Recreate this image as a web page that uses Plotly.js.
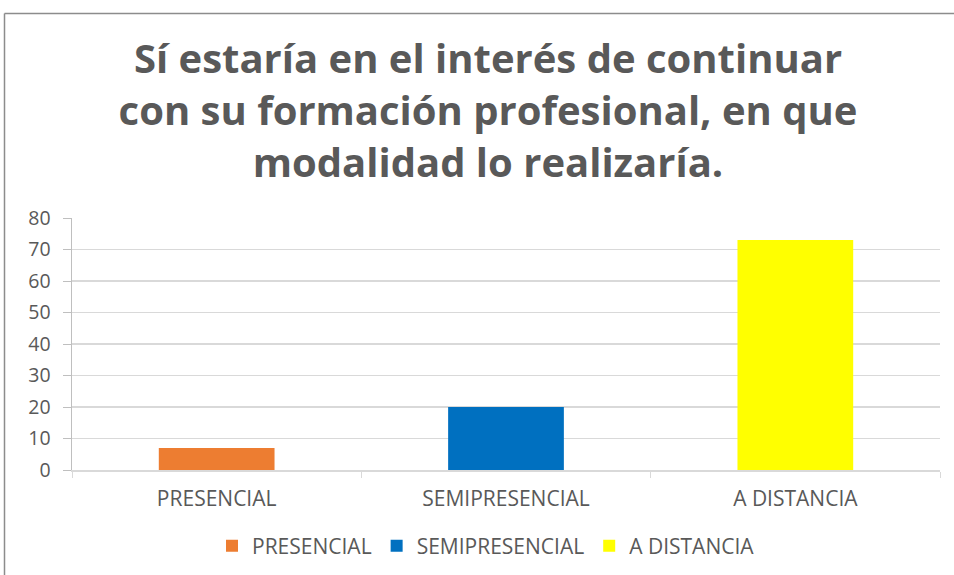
<!DOCTYPE html>
<html><head><meta charset="utf-8">
<script src="https://cdn.plot.ly/plotly-3.0.1.min.js"></script>
<style>html,body{margin:0;padding:0;background:#fff;overflow:hidden}</style>
</head><body><div id="chart" style="width:954px;height:575px"></div>
<script>
const categories = ['PRESENCIAL', 'SEMIPRESENCIAL', 'A DISTANCIA'];
const values = [7, 20, 73];
const colors = ['#ED7D31', '#0070C0', '#FFFF00'];
const yTicks = [0, 10, 20, 30, 40, 50, 60, 70, 80];
const titleText = 'Sí estaría en el interés de continuar<br>con su formación profesional, en que<br>modalidad lo realizaría.';

const traces = categories.map((c, i) => ({
  type: 'bar', name: c, x: [c], y: [values[i]],
  marker: {color: colors[i]}, width: 0.4, hoverinfo: 'x+y'
}));

const L = 72, R = 940, T = 218, B = 470;
const pw = R - L, ph = B - T;
const px = X => (X - L) / pw, py = Y => (B - Y) / ph;

const layout = {
  width: 954, height: 575,
  margin: {l: L, r: 954 - R, t: T, b: 575 - B, autoexpand: false},
  paper_bgcolor: '#fff', plot_bgcolor: '#fff',
  font: {family: '"Open Sans", sans-serif', color: '#595959'},
  title: {text: titleText, font: {size: 40, color: '#595959', family: '"Open Sans", sans-serif', weight: 'bold'},
          x: 488/954, xanchor: 'center', y: 1 - 73/575, yanchor: 'top', yref: 'container'},
  barmode: 'overlay',
  showlegend: true,
  legend: {orientation: 'h', x: px(486), xanchor: 'center', y: py(546), yanchor: 'middle',
           font: {size: 21, color: '#595959'}, traceorder: 'normal'},
  xaxis: {type: 'category', categoryorder: 'array', categoryarray: categories,
          showline: true, linecolor: '#D9D9D9', linewidth: 1.5, automargin: false,
          ticks: 'outside', ticklen: 6, tickcolor: '#D9D9D9', tickson: 'boundaries',
          ticklabelstandoff: 9,
          tickfont: {size: 21, color: '#595959'}, showgrid: false},
  yaxis: {range: [0, 80], tickvals: yTicks, showgrid: true, gridcolor: '#D9D9D9', gridwidth: 1.5,
          showline: true, linecolor: '#BFBFBF', linewidth: 1.5, ticks: 'outside', ticklen: 8,
          ticklabelstandoff: 8, automargin: false,
          tickcolor: '#BFBFBF', tickfont: {size: 19.5, color: '#595959'}, zeroline: false},
  shapes: [
    {type: 'line', xref: 'paper', yref: 'paper', x0: px(4.5), x1: px(960), y0: py(13.5), y1: py(13.5),
     line: {color: '#8C8C8C', width: 1.5}},
    {type: 'line', xref: 'paper', yref: 'paper', x0: px(4.5), x1: px(4.5), y0: py(13.5), y1: py(580),
     line: {color: '#8C8C8C', width: 1.5}}
  ]
};
Plotly.newPlot('chart', traces, layout, {displayModeBar: false, staticPlot: true});
</script></body></html>
